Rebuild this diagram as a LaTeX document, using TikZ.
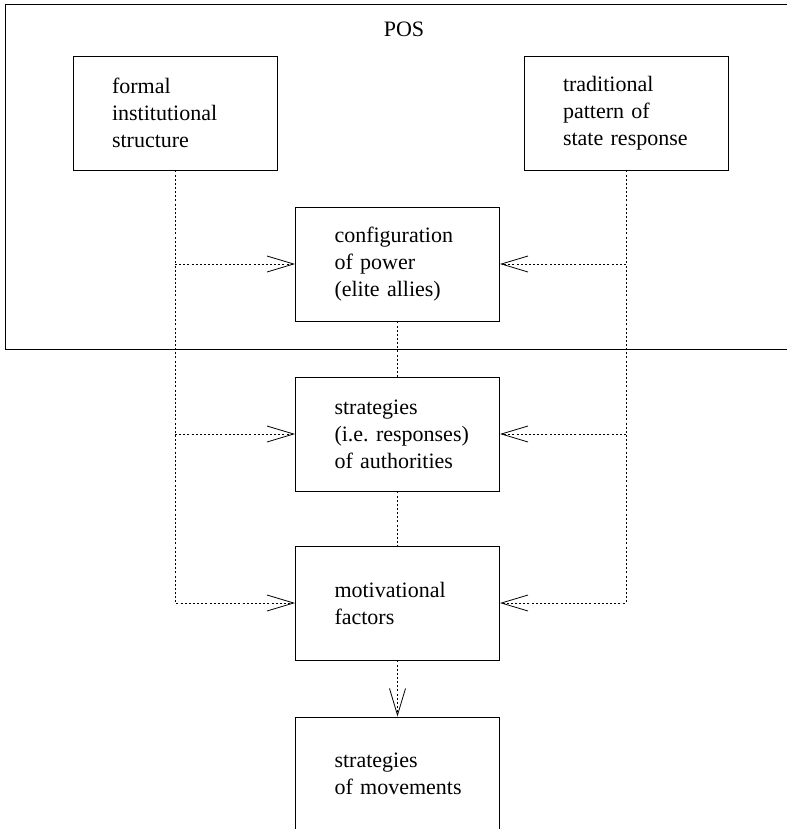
\documentclass[tikz,border=0pt]{standalone}
\usepackage{fontspec}
\setmainfont{Liberation Serif}
\usetikzlibrary{arrows.meta}

\tikzset{every picture/.style={line width=0.75pt}}
\tikzset{
  blk/.style={draw, line width=0.7pt, minimum width=153pt, minimum height=85.5pt,
    inner xsep=0pt, text width=153pt, align=left,
    execute at begin node={\leftskip=29.25pt},
    font=\fontsize{16.5}{20.25}\selectfont},
  frame/.style={draw, line width=0.7pt, anchor=north west, inner sep=0pt,
    minimum width=592.5pt, minimum height=258.75pt},
  dotline/.style={line width=0.55pt, dash pattern=on 1.5pt off 1.6pt},
  link/.style={dotline, -{Straight Barb[length=20pt,width=12pt,line width=0.6pt]}}
}

\begin{document}
\begin{tikzpicture}[x=0.75pt,y=0.75pt,yscale=-1,xscale=1]
\useasboundingbox (0,0) rectangle (787,829);

\node [frame] (pos) at (5,4) {};
\node [font=\fontsize{16.5}{20.25}\selectfont] (poslabel) at (404,29) {POS};

\node [blk] (formal) at (175,113) {formal\\institutional\\structure};
\node [blk] (trad) at (626,113) {traditional\\pattern of\\state response};
\node [blk] (config) at (397.5,264) {configuration\\of power\\(elite allies)};
\node [blk] (auth) at (397.5,434) {strategies\\(i.e.\ responses)\\of authorities};
\node [blk] (motiv) at (397.5,603) {motivational\\factors};
\node [blk] (moves) at (397.5,774) {strategies\\of movements};

\draw [link] (formal.south) |- (motiv.west);
\draw [link] (formal.south |- config.west) -- (config.west);
\draw [link] (formal.south |- auth.west) -- (auth.west);

\draw [link] (trad.south) |- (motiv.east);
\draw [link] (trad.south |- config.east) -- (config.east);
\draw [link] (trad.south |- auth.east) -- (auth.east);

\draw [dotline] (config) -- (auth);
\draw [dotline] (auth) -- (motiv);
\draw [link] (motiv) -- (moves);

\end{tikzpicture}
\end{document}
